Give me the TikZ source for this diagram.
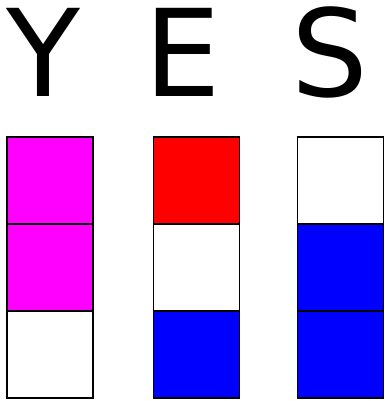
\documentclass[tikz,border=0pt]{standalone}
\usepackage{fontspec}
\setmainfont{DejaVu Sans}
\usepackage{tikz}
\usetikzlibrary{positioning}
\usepackage{xcolor}
\definecolor{pinkcolor}{RGB}{255,0,255}
\definecolor{redcolor}{RGB}{255,0,0}
\definecolor{bluecolor}{RGB}{0,0,255}

\begin{document}
\begin{tikzpicture}[x=1pt,y=1pt]
  \tikzset{
    cell/.style={
      draw,
      line width=1.3pt,
      minimum width=86pt,
      minimum height=87pt,
      inner sep=0pt,
      outer sep=0pt,
      anchor=center,
      fill=white
    },
    letter/.style={
      font=\fontsize{121}{121}\selectfont,
      inner sep=0pt,
      anchor=base
    }
  }
  \useasboundingbox (0,0) rectangle (384,401);

  % Draw the letters
    \node[letter] at (43.5, 304) (letterY) {Y};
    \node[letter] at (183, 304) (letterE) {E};
    \node[letter] at (329.5, 304) (letterS) {S};

  % Draw the first column
    \node[cell, fill=pinkcolor] at (50, 220.5) (cellY1) {};
    \node[cell, fill=pinkcolor] at (50, 133.5) (cellY2) {};
    \node[cell] at (50, 46.5) (cellY3) {};

  % Draw the second column
    \node[cell, fill=redcolor] at (196.5, 220.5) (cellE1) {};
    \node[cell] at (196.5, 133.5) (cellE2) {};
    \node[cell, fill=bluecolor] at (196.5, 46.5) (cellE3) {};

  % Draw the third column
    \node[cell] at (340.5, 220.5) (cellS1) {};
    \node[cell, fill=bluecolor] at (340.5, 133.5) (cellS2) {};
    \node[cell, fill=bluecolor] at (340.5, 46.5) (cellS3) {};

\end{tikzpicture}
\end{document}
